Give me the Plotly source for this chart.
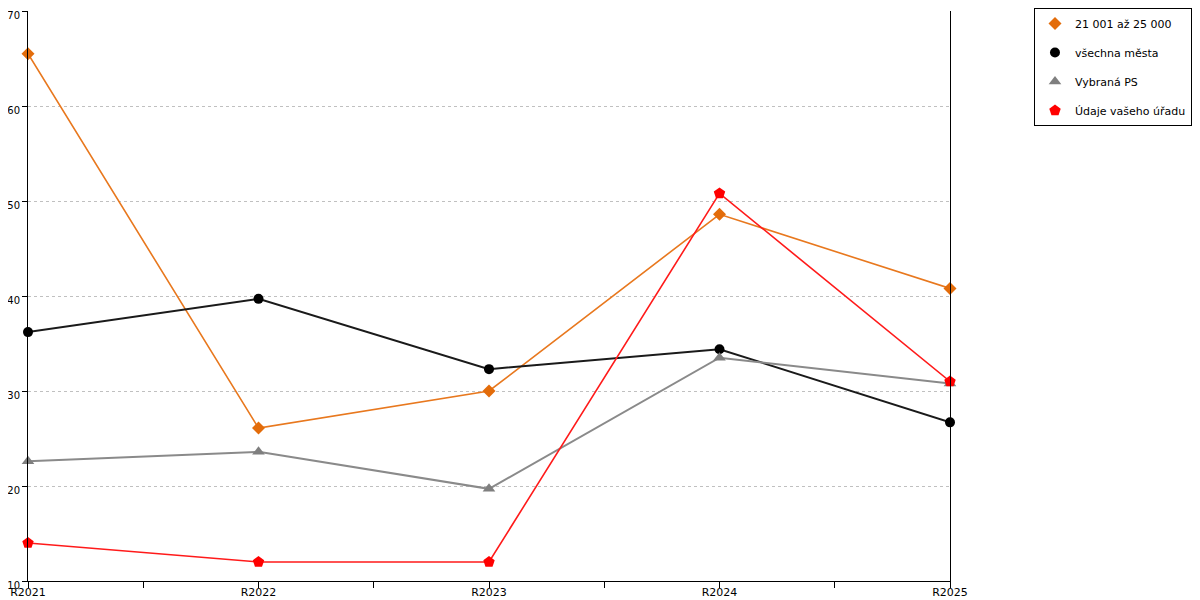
import plotly.graph_objects as go

years = ["R2021", "R2022", "R2023", "R2024", "R2025"]

names = ["21 001 až 25 000", "všechna města", "Vybraná PS", "Údaje vašeho úřadu"]
orange_vals = [65.5, 26.1, 30.0, 48.6, 40.8]
black_vals = [36.2, 39.7, 32.3, 34.4, 26.7]
gray_vals = [22.6, 23.6, 19.7, 33.5, 30.8]
red_vals = [14.0, 12.0, 12.0, 50.8, 31.0]

y_ticks = [10, 20, 30, 40, 50, 60, 70]

styles = [
    dict(vals=orange_vals, line="#E8781E", marker="#E36C0A", symbol="diamond", size=10, width=1.6),
    dict(vals=black_vals, line="#1a1a1a", marker="#000000", symbol="circle", size=10, width=2),
    dict(vals=gray_vals, line="#8a8a8a", marker="#7f7f7f", symbol="triangle-up", size=11, width=2),
    dict(vals=red_vals, line="#FF1a1a", marker="#FF0000", symbol="pentagon", size=12, width=1.6),
]

x_pos = list(range(len(years)))

fig = go.Figure()

# draw the lines, legend handled by marker-only traces below
for name, st in zip(names, styles):
    fig.add_trace(
        go.Scatter(
            x=x_pos,
            y=st["vals"],
            mode="lines+markers",
            name=name,
            line=dict(color=st["line"], width=st["width"]),
            marker=dict(symbol=st["symbol"], size=st["size"], color=st["marker"]),
            cliponaxis=False,
            showlegend=False,
        )
    )

for i, (name, st) in enumerate(zip(names, styles)):
    fig.add_trace(
        go.Scatter(
            x=[None],
            y=[None],
            mode="markers",
            name=name,
            legendgroup=f"g{i}",
            marker=dict(symbol=st["symbol"], size=st["size"], color=st["marker"]),
        )
    )

# page body adds ~8px offset, so figure is shrunk and margins compensate
fig.update_layout(
    width=1192,
    height=592,
    margin=dict(l=20, r=250, t=3, b=19, autoexpand=False),
    plot_bgcolor="white",
    paper_bgcolor="white",
    font=dict(family="DejaVu Sans", size=11, color="#000000"),
    legend=dict(
        x=1.0911,
        y=1.0053,
        xanchor="left",
        yanchor="top",
        bordercolor="#000000",
        borderwidth=1,
        font=dict(size=11),
        tracegroupgap=10,
        itemwidth=30,
    ),
)

fig.update_xaxes(
    range=[0, len(years) - 1],
    tickvals=x_pos,
    ticktext=years,
    automargin=False,
    ticklabeloverflow="allow",
    ticklabelstandoff=-5,
    showgrid=False,
    zeroline=False,
    showline=True,
    linecolor="#000000",
    linewidth=1,
    ticks="outside",
    ticklen=6,
    tickcolor="#000000",
    minor=dict(ticks="outside", ticklen=6, tickcolor="#000000", tickvals=[0.5, 1.5, 2.5, 3.5]),
    tickfont=dict(size=11),
)

fig.update_yaxes(
    range=[10, 70],
    tickvals=y_ticks,
    automargin=False,
    ticklabeloverflow="allow",
    ticklabelshift=4,
    showgrid=True,
    gridcolor="#c0c0c0",
    griddash="dot",
    zeroline=False,
    showline=True,
    mirror=True,
    linecolor="#000000",
    linewidth=1,
    ticks="outside",
    ticklen=5,
    tickcolor="#000000",
    tickfont=dict(size=10),
)

fig.write_html("out.html")
